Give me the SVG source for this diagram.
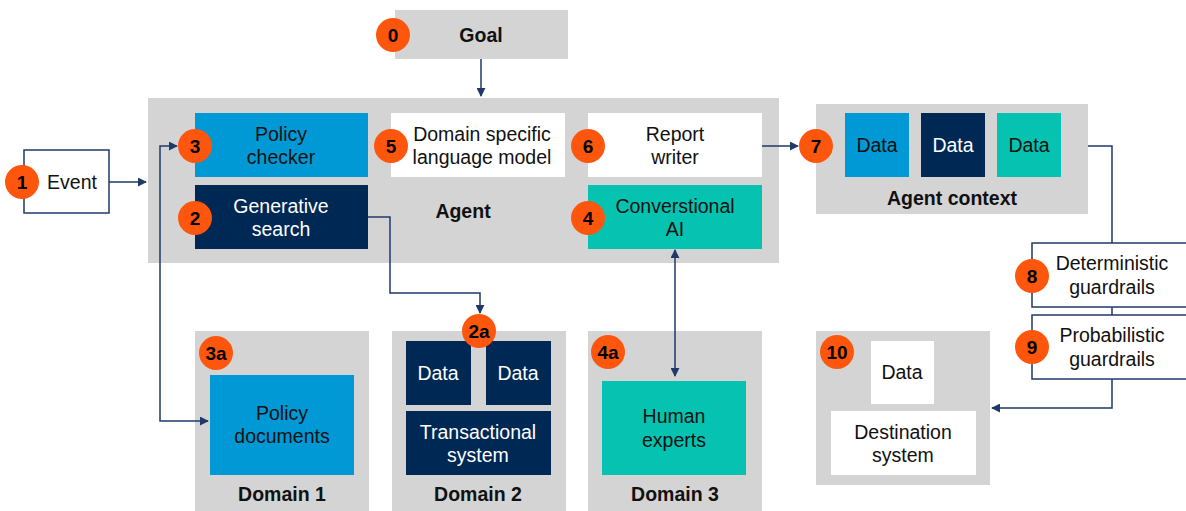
<svg xmlns="http://www.w3.org/2000/svg" width="1186" height="511" viewBox="0 0 1186 511">
<defs>
<marker id="ah" viewBox="0 0 10 10" refX="9" refY="5" markerWidth="9" markerHeight="9" markerUnits="userSpaceOnUse" orient="auto-start-reverse">
<path d="M0,0 L10,5 L0,10 z" fill="#1f3a68"/>
</marker>
<style>
.gray{fill:#d4d4d4}
.white{fill:#ffffff}
.blue{fill:#0099d5}
.navy{fill:#002855}
.teal{fill:#05c3b0}
.bord{fill:#ffffff;stroke:#1f3a68;stroke-width:1.5}
text{font-family:"Liberation Sans",Arial,sans-serif;font-size:19.5px;text-anchor:middle;fill:#111}
.b{font-weight:bold}
.w{fill:#ffffff}
.badge circle{fill:#ff560d}
.badge text{font-weight:bold;font-size:19px;fill:#000}
.conn{fill:none;stroke:#1f3a68;stroke-width:1.5}
</style>
</defs>
<rect width="1186" height="511" fill="#ffffff"/>

<g id="goal">
<rect class="gray" x="395" y="10" width="173" height="49"/>
<text class="b" x="481" y="42">Goal</text>
<g class="badge"><circle cx="393" cy="35" r="17"/><text x="393" y="42">0</text></g>
</g>

<g id="agent">
<rect class="gray" x="148" y="98" width="631" height="165"/>
<text class="b" x="463" y="218">Agent</text>
</g>

<g id="policy-checker">
<rect class="blue" x="195" y="113" width="173" height="64"/>
<text x="281" y="141">Policy</text>
<text x="281" y="164">checker</text>
<g class="badge"><circle cx="195" cy="146" r="17"/><text x="195" y="153">3</text></g>
</g>

<g id="dslm">
<rect class="white" x="391" y="113" width="174" height="64"/>
<text x="482" y="141">Domain specific</text>
<text x="482" y="164">language model</text>
<g class="badge"><circle cx="391" cy="146" r="17"/><text x="391" y="153">5</text></g>
</g>

<g id="report-writer">
<rect class="white" x="588" y="113" width="174" height="64"/>
<text x="675" y="141">Report</text>
<text x="675" y="164">writer</text>
<g class="badge"><circle cx="588" cy="146" r="17"/><text x="588" y="153">6</text></g>
</g>

<g id="generative-search">
<rect class="navy" x="195" y="185" width="173" height="64"/>
<text class="w" x="281" y="213">Generative</text>
<text class="w" x="281" y="236">search</text>
<g class="badge"><circle cx="195" cy="218" r="17"/><text x="195" y="225">2</text></g>
</g>

<g id="conversational-ai">
<rect class="teal" x="588" y="185" width="174" height="64"/>
<text x="675" y="213">Converstional</text>
<text x="675" y="236">AI</text>
<g class="badge"><circle cx="588" cy="218" r="17"/><text x="588" y="225">4</text></g>
</g>

<g id="event">
<rect class="bord" x="24" y="150" width="85" height="63"/>
<text x="72" y="189">Event</text>
<g class="badge"><circle cx="22" cy="182" r="17"/><text x="22" y="189">1</text></g>
</g>

<g id="agent-context">
<rect class="gray" x="816" y="104" width="272" height="110"/>
<rect class="blue" x="845" y="113" width="64" height="64"/>
<rect class="navy" x="921" y="113" width="64" height="64"/>
<rect class="teal" x="997" y="113" width="64" height="64"/>
<text x="877" y="152">Data</text>
<text class="w" x="953" y="152">Data</text>
<text x="1029" y="152">Data</text>
<text class="b" x="952" y="205">Agent context</text>
<g class="badge"><circle cx="816" cy="146" r="17"/><text x="816" y="153">7</text></g>
</g>

<g id="deterministic">
<rect class="bord" x="1032" y="243" width="170" height="64"/>
<text x="1112" y="270">Deterministic</text>
<text x="1112" y="294">guardrails</text>
<g class="badge"><circle cx="1032" cy="276" r="17"/><text x="1032" y="283">8</text></g>
</g>

<g id="probabilistic">
<rect class="bord" x="1032" y="315" width="170" height="64"/>
<text x="1112" y="342">Probabilistic</text>
<text x="1112" y="366">guardrails</text>
<g class="badge"><circle cx="1032" cy="347" r="17"/><text x="1032" y="354">9</text></g>
</g>

<g id="destination">
<rect class="gray" x="816" y="331" width="174" height="154"/>
<rect class="white" x="871" y="341" width="63" height="63"/>
<text x="902" y="379">Data</text>
<rect class="white" x="831" y="411" width="145" height="64"/>
<text x="903" y="439">Destination</text>
<text x="903" y="462">system</text>
<g class="badge"><circle cx="837" cy="352" r="17"/><text x="837" y="359">10</text></g>
</g>

<g id="domain1">
<rect class="gray" x="195" y="331" width="174" height="180"/>
<rect class="blue" x="210" y="375" width="144" height="100"/>
<text x="282" y="420">Policy</text>
<text x="282" y="443">documents</text>
<text class="b" x="282" y="501">Domain 1</text>
<g class="badge"><circle cx="216" cy="353" r="17"/><text x="216" y="360">3a</text></g>
</g>

<g id="domain2">
<rect class="gray" x="392" y="331" width="174" height="180"/>
<rect class="navy" x="406" y="341" width="65" height="64"/>
<rect class="navy" x="486" y="341" width="65" height="64"/>
<line x1="438" y1="405" x2="438" y2="411" stroke="#d4d4d4" stroke-width="1.5"/>
<line x1="519" y1="405" x2="519" y2="411" stroke="#d4d4d4" stroke-width="1.5"/>
<rect class="navy" x="406" y="411" width="145" height="64"/>
<text class="w" x="438" y="380">Data</text>
<text class="w" x="518" y="380">Data</text>
<text class="w" x="478" y="439">Transactional</text>
<text class="w" x="478" y="462">system</text>
<text class="b" x="478" y="501">Domain 2</text>
<g class="badge"><circle cx="479" cy="331" r="17"/><text x="479" y="338">2a</text></g>
</g>

<g id="domain3">
<rect class="gray" x="588" y="331" width="174" height="180"/>
<rect class="teal" x="602" y="381" width="144" height="94"/>
<text x="674" y="423">Human</text>
<text x="674" y="447">experts</text>
<text class="b" x="675" y="501">Domain 3</text>
<g class="badge"><circle cx="608" cy="352" r="17"/><text x="608" y="359">4a</text></g>
</g>

<g id="connectors">
<path class="conn" d="M481,59 V96" marker-end="url(#ah)"/>
<path class="conn" d="M109,182 H146" marker-end="url(#ah)"/>
<path class="conn" d="M762,146 H798" marker-end="url(#ah)"/>
<path class="conn" d="M177,146 H160 V421 H208" marker-start="url(#ah)" marker-end="url(#ah)"/>
<path class="conn" d="M368,217 H390 V293 H480 V313" marker-end="url(#ah)"/>
<path class="conn" d="M675,250 V376" marker-start="url(#ah)" marker-end="url(#ah)"/>
<path class="conn" d="M1088,146 H1112 V243"/>
<path class="conn" d="M1112,307 V315"/>
<path class="conn" d="M1112,379 V408 H992" marker-end="url(#ah)"/>
</g>
</svg>
